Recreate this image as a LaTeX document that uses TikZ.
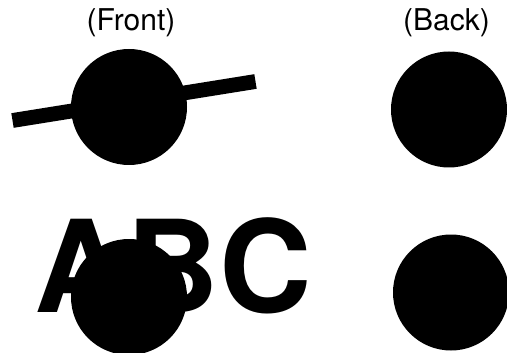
\documentclass[tikz,border=0pt]{standalone}
\usepackage{fontspec}
\setmainfont{TeX Gyre Heros}
\usetikzlibrary{positioning}

\begin{document}
\begin{tikzpicture}[
  x=1pt, y=-1pt,
  disc/.style  = {circle, fill=black, minimum size=116pt, inner sep=0pt},
  head/.style  = {anchor=base, inner sep=0pt, font=\fontsize{30}{30}\selectfont},
  big/.style   = {anchor=base west, inner sep=0pt,
                  font=\fontsize{128}{128}\selectfont\bfseries},
  bar/.style   = {line width=14.8pt, draw=black},
]
\useasboundingbox (0,0) rectangle (507,353);

% ---- headings --------------------------------------------------------------
\node[head] (front) at (131,31)   {(Front)};
\node[head] (back)  at (446.5,31) {(Back)};

% ---- front column ----------------------------------------------------------
\coordinate (barl) at (12.5,120.5);
\coordinate (barr) at (255.5,81.5);
\draw[bar] (barl) -- (barr);
\node[disc] (f1) at (129,107) {};

\node[big] (abc) at (34,312) {ABC};
\node[disc] (f2) at (129,297) {};

% ---- back column -----------------------------------------------------------
\node[disc] (b1) at (449,109.5) {};
\node[disc] (b2) at (451,292.5) {};

\end{tikzpicture}
\end{document}
